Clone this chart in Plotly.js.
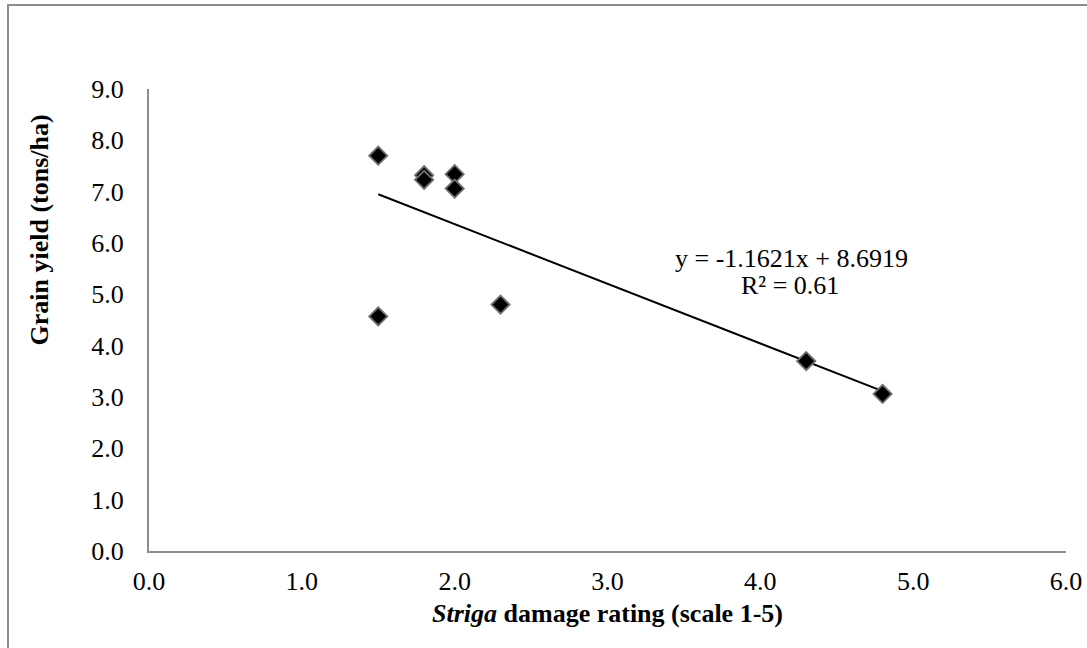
<!DOCTYPE html>
<html>
<head>
<meta charset="utf-8">
<script src="https://cdn.plot.ly/plotly-3.0.1.min.js"></script>
<style>
  html, body { margin: 0; padding: 0; background: #ffffff; overflow: hidden; }
  #chart { position: absolute; left: 0; top: 0; width: 1087px; height: 648px; }
  #frame { position: absolute; left: 7px; top: 4px; width: 1200px; height: 800px;
           border-left: 2px solid #8c8c8c; border-top: 2px solid #8c8c8c; pointer-events: none; }
</style>
</head>
<body>
<div id="chart"></div>
<div id="frame"></div>
<script>
// Data
const strigaRating = [1.5, 1.8, 1.8, 2.0, 2.0, 1.5, 2.3, 4.3, 4.8];
const grainYield   = [7.70, 7.32, 7.23, 7.34, 7.06, 4.57, 4.80, 3.70, 3.06];

// Linear trendline shown in the chart
const slope = -1.1621;
const intercept = 8.6919;
const rSquared = 0.61;

const xTickVals = [0, 1, 2, 3, 4, 5, 6];
const xTickText = ["0.0", "1.0", "2.0", "3.0", "4.0", "5.0", "6.0"];
const yTickVals = [0, 1, 2, 3, 4, 5, 6, 7, 8, 9];
const yTickText = ["0.0", "1.0", "2.0", "3.0", "4.0", "5.0", "6.0", "7.0", "8.0", "9.0"];

const xMin = Math.min(...strigaRating);
const xMax = Math.max(...strigaRating);
const trendX = [xMin, xMax];
const trendY = trendX.map(v => slope * v + intercept);

const FONT = "Liberation Serif, Times New Roman, serif";
const FS = 26;

const traces = [
  {
    x: trendX, y: trendY, type: "scatter", mode: "lines",
    line: { color: "#000000", width: 2 }, hoverinfo: "skip", showlegend: false
  },
  {
    x: strigaRating, y: grainYield, type: "scatter", mode: "markers",
    marker: { symbol: "diamond", size: 14, color: "#000000",
              line: { color: "#6e6e6e", width: 1.8 } },
    showlegend: false
  }
];

const layout = {
  width: 1087, height: 648,
  margin: { l: 149, r: 21, t: 89, b: 97 },
  paper_bgcolor: "#ffffff", plot_bgcolor: "#ffffff",
  font: { family: FONT, size: FS, color: "#000000" },
  showlegend: false,
  xaxis: {
    range: [0, 6], tickmode: "array", tickvals: xTickVals, ticktext: xTickText,
    showgrid: false, zeroline: false, showline: true, linecolor: "#8c8c8c", linewidth: 2,
    ticks: "", ticklabelstandoff: 6, fixedrange: true,
    tickfont: { family: FONT, size: FS, color: "#000000" }
  },
  yaxis: {
    range: [0, 9], tickmode: "array", tickvals: yTickVals, ticktext: yTickText,
    showgrid: false, zeroline: false, showline: true, linecolor: "#8c8c8c", linewidth: 2,
    ticks: "", ticklabelstandoff: 18, fixedrange: true,
    tickfont: { family: FONT, size: FS, color: "#000000" }
  },
  annotations: [
    {
      text: "<b><i>Striga</i> damage rating (scale 1-5)</b>",
      xref: "paper", yref: "paper", x: 0.5, y: (551 - 613) / 462,
      xanchor: "center", yanchor: "middle", showarrow: false,
      font: { family: FONT, size: FS, color: "#000000" }
    },
    {
      text: "<b>Grain yield (tons/ha)</b>",
      xref: "paper", yref: "paper", x: (39 - 149) / 917, y: (551 - 113) / 462,
      xanchor: "center", yanchor: "top", textangle: -90, showarrow: false,
      font: { family: FONT, size: FS, color: "#000000" }
    },
    {
      text: "y = " + slope.toFixed(4) + "x + " + intercept.toFixed(4),
      xref: "paper", yref: "paper", x: (791 - 149) / 917, y: (551 - 258) / 462,
      xanchor: "center", yanchor: "middle", showarrow: false,
      font: { family: FONT, size: FS, color: "#000000" }
    },
    {
      text: "R² = " + rSquared.toFixed(2),
      xref: "paper", yref: "paper", x: (790 - 149) / 917, y: (551 - 285) / 462,
      xanchor: "center", yanchor: "middle", showarrow: false,
      font: { family: FONT, size: FS, color: "#000000" }
    }
  ]
};

Plotly.newPlot("chart", traces, layout, { displayModeBar: false, staticPlot: true });
</script>
</body>
</html>
